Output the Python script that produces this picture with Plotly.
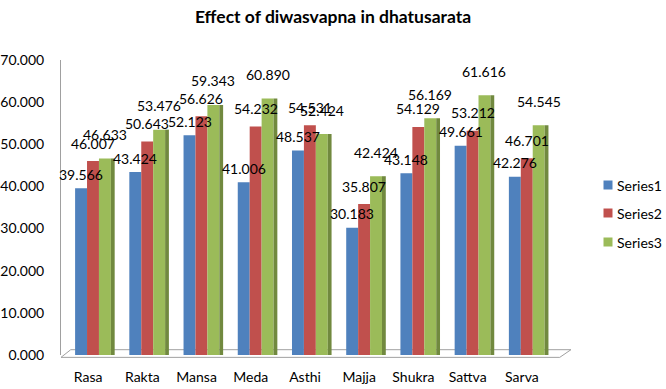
import plotly.graph_objects as go

categories = ["Rasa", "Rakta", "Mansa", "Meda", "Asthi", "Majja", "Shukra", "Sattva", "Sarva"]
series1 = [39.566, 43.424, 52.123, 41.006, 48.537, 30.183, 43.148, 49.661, 42.276]
series2 = [46.007, 50.643, 56.626, 54.232, 54.531, 35.807, 54.129, 53.212, 46.701]
series3 = [46.633, 53.476, 59.343, 60.890, 52.424, 42.424, 56.169, 61.616, 54.545]
series_names = ["Series1", "Series2", "Series3"]

colors = ["#4F81BD", "#C0504D", "#9BBB59"]
side_color = "#71893F"
FONT = "Lato"

W, H = 666, 389
ML, MR, MT, MB = 61, 117, 60, 34
PW, PH = W - ML - MR, H - MT - MB


def px_x(px):
    return (px - ML) / PW


def px_y(py):
    return (H - MB - py) / PH


bar_w = 0.22
start = -0.24
label_shift = [14, 18, 24]

fig = go.Figure()
idx = list(range(len(categories)))
all_series = [series1, series2, series3]
for i, (name, vals) in enumerate(zip(series_names, all_series)):
    fig.add_trace(go.Bar(
        x=idx, y=vals, name=name, marker_color=colors[i],
        marker_line_width=0, width=bar_w, offset=start + i * bar_w,
        hoverinfo="y+name", showlegend=False,
    ))
# visible side face of the last bar (3-D look)
fig.add_trace(go.Bar(
    x=idx, y=series3, showlegend=False, marker_color=side_color,
    marker_line_width=0, width=0.07, offset=start + 3 * bar_w,
    hoverinfo="skip",
))

annotations = []
for i, vals in enumerate(all_series):
    for j, v in enumerate(vals):
        annotations.append(dict(
            x=j + start + i * bar_w + bar_w / 2, y=v, xref="x", yref="y",
            text=f"{v:.3f}", showarrow=False, yshift=label_shift[i],
            font=dict(family=FONT, size=14, color="#000000"),
        ))

# legend drawn by hand (square key + label)
shapes = []
legend_rows = [185, 213, 242]
for i, name in enumerate(series_names):
    cy = legend_rows[i]
    shapes.append(dict(type="rect", xref="paper", yref="paper",
                       x0=px_x(603.5), x1=px_x(612.5), y0=px_y(cy + 4.5), y1=px_y(cy - 4.5),
                       fillcolor=colors[i], line=dict(width=0)))
    annotations.append(dict(x=px_x(615), y=px_y(cy), xref="paper", yref="paper",
                            xanchor="left", yanchor="middle", text=name,
                            showarrow=False, font=dict(family=FONT, size=14, color="#000000")))

# floor of the 3-D plot area
shapes.append(dict(type="path", xref="paper", yref="paper",
                   path="M 0,-0.008 L 1.022,-0.008 L 1.045,0.018 L 0.02,0.018 Z",
                   line=dict(color="#A0A0A0", width=1), fillcolor="rgba(0,0,0,0)",
                   layer="below"))

fig.update_layout(
    width=W, height=H,
    margin=dict(l=ML, r=MR, t=MT, b=MB, autoexpand=False),
    paper_bgcolor="white", plot_bgcolor="white",
    barmode="overlay",
    font=dict(family=FONT, size=14, color="#000000"),
    title=dict(text="<b>Effect of diwasvapna in dhatusarata</b>",
               x=0.5, xanchor="center", y=1 - 17 / 389, yanchor="middle",
               font=dict(family=FONT, size=17.5, color="#000000")),
    annotations=annotations,
    shapes=shapes,
    showlegend=False,
)
fig.update_xaxes(
    type="linear", range=[-0.5, len(categories) - 0.5],
    tickmode="array", tickvals=idx, ticktext=categories,
    showgrid=False, zeroline=False, showline=False, ticks="",
    ticklabelstandoff=12, tickfont=dict(family=FONT, size=14),
)
fig.update_yaxes(
    range=[0, 70], dtick=10, tickformat=".3f",
    showgrid=False, zeroline=False, showline=True, linecolor="#A0A0A0",
    linewidth=1, ticks="", ticklabelstandoff=13,
    tickfont=dict(family=FONT, size=14),
)

fig.write_html("out.html", config={"displayModeBar": False},
               post_script="document.body.style.margin='0';")
